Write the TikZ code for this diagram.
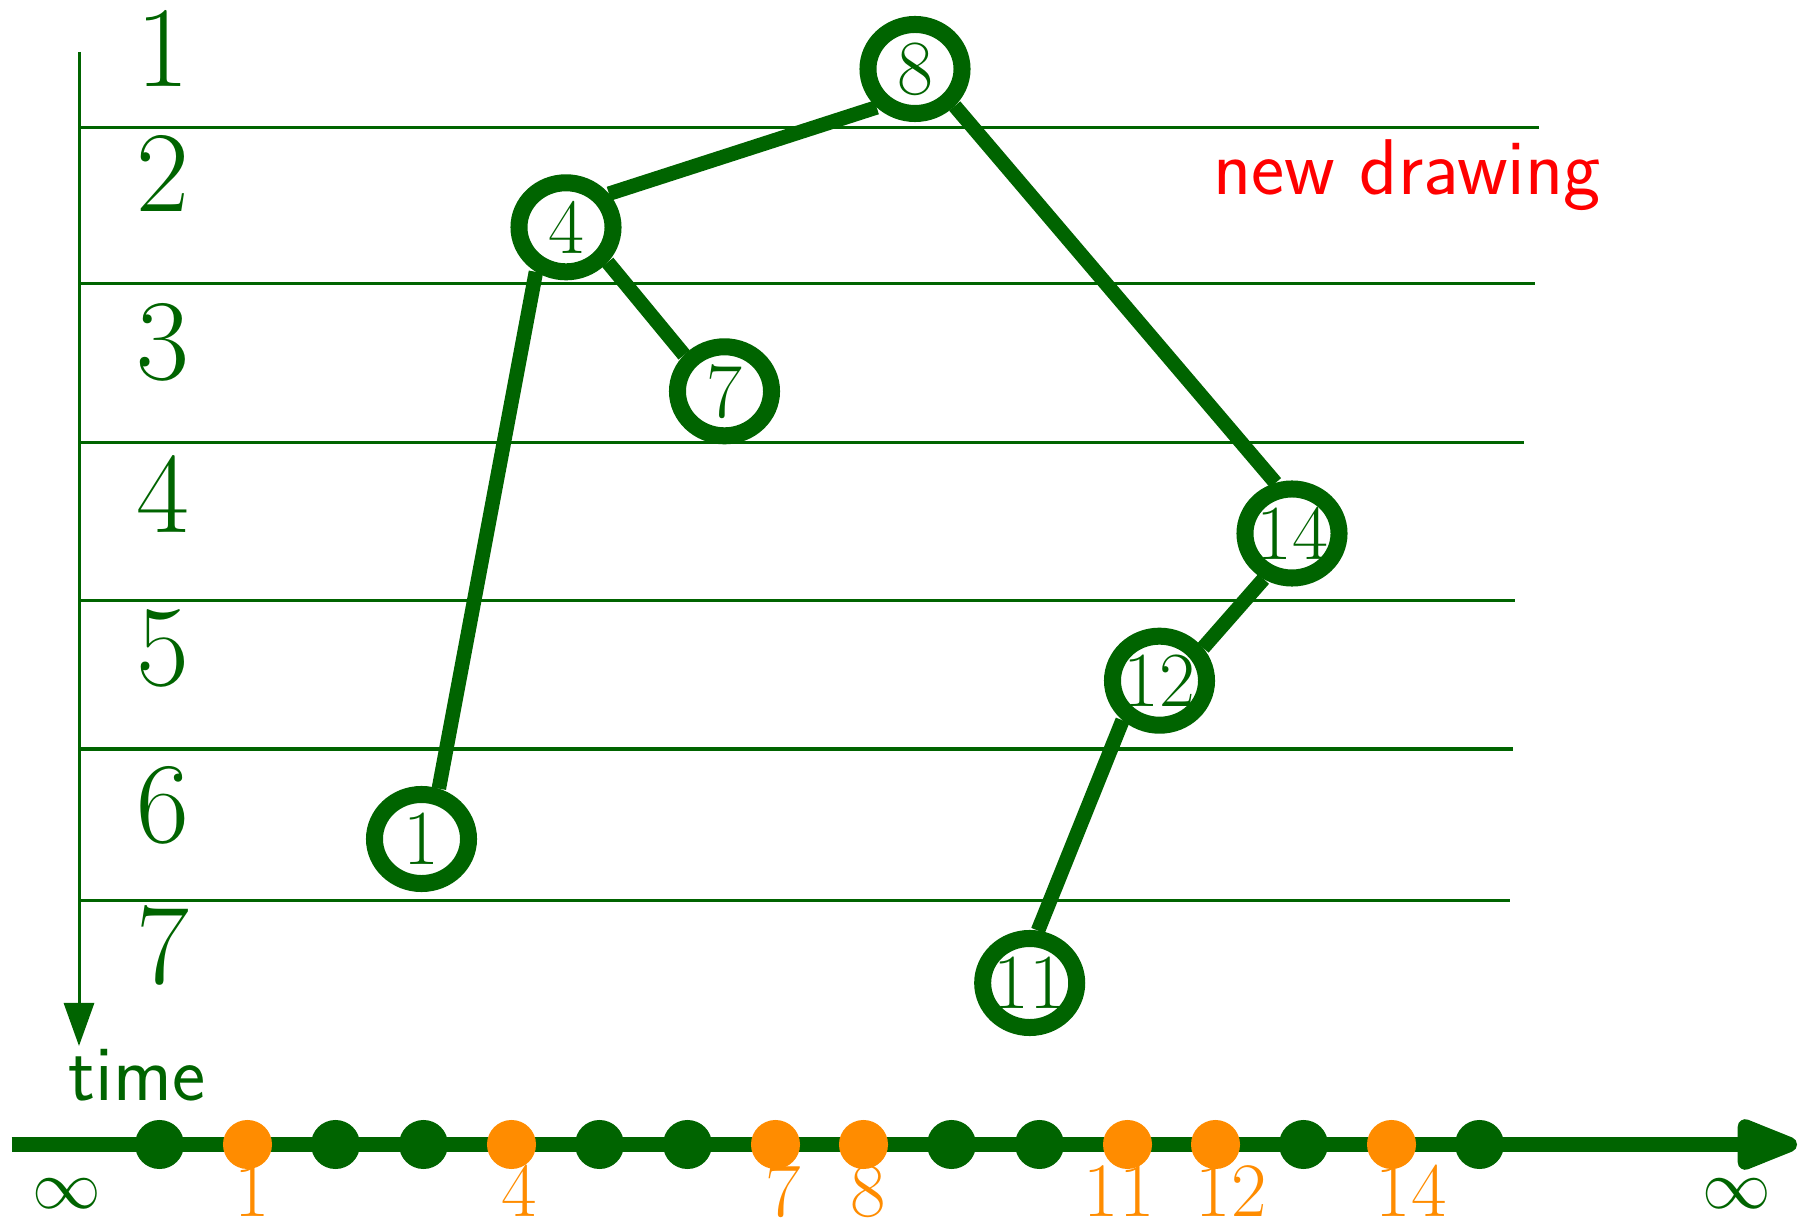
\documentclass[tikz,border=0pt]{standalone}
\usepackage{fontspec}
\usepackage{graphicx}
\usetikzlibrary{shapes.geometric,arrows.meta}
\definecolor{dg}{RGB}{0,100,0}
\definecolor{dorange}{RGB}{255,140,0}
\begin{document}
\begin{tikzpicture}[x=0.01cm,y=-0.01cm,
  tnode/.style={draw=dg, line width=0.17cm, fill=white, ellipse, inner sep=0pt,
    minimum width=0.94cm, minimum height=0.89cm, text=dg,
    font=\fontsize{0.78cm}{0.9cm}\selectfont},
  tedge/.style={draw=dg, line width=0.145cm},
  sepline/.style={draw=dg, line width=0.03cm},
  rowlab/.style={text=dg, anchor=base, inner sep=0pt,
    font=\fontsize{1.15cm}{1.3cm}\selectfont},
  olab/.style={text=dorange, anchor=base, inner sep=0pt,
    font=\fontsize{0.77cm}{0.9cm}\selectfont},
  sanslab/.style={anchor=base, inner sep=0pt,
    font=\sffamily\fontsize{0.79cm}{0.95cm}\selectfont},
  gdot/.style={circle, fill=dg, inner sep=0pt, minimum size=0.49cm},
  odot/.style={circle, fill=dorange, inner sep=0pt, minimum size=0.49cm},
  inflab/.style={text=dg, inner sep=0pt},
]
\useasboundingbox (0,0) rectangle (1809,1219);

% row separator lines
\coordinate (s1a) at (79,128);   \coordinate (s1b) at (1539,128);
\coordinate (s2a) at (79,283.5); \coordinate (s2b) at (1535,283.5);
\coordinate (s3a) at (79,442.5); \coordinate (s3b) at (1524,442.5);
\coordinate (s4a) at (79,601);   \coordinate (s4b) at (1515,601);
\coordinate (s5a) at (79,749);   \coordinate (s5b) at (1512.5,749);
\coordinate (s6a) at (79,900.5); \coordinate (s6b) at (1510,900.5);
\draw[sepline] (s1a) -- (s1b);
\draw[sepline] (s2a) -- (s2b);
\draw[sepline] (s3a) -- (s3b);
\draw[sepline] (s4a) -- (s4b);
\draw[sepline] (s5a) -- (s5b);
\draw[sepline] (s6a) -- (s6b);

% time axis
\coordinate (ta) at (79,52);
\coordinate (tb) at (79,1046);
\draw[dg, line width=0.03cm, -{Triangle[length=0.43cm,width=0.30cm]}] (ta) -- (tb);
\node[sanslab, text=dg] (time) at (137,1100) {time};

% row labels
\node[rowlab] (r1) at (163,86.7) {1};
\node[rowlab] (r2) at (163,212) {2};
\node[rowlab] (r3) at (163,380) {3};
\node[rowlab] (r4) at (163,533) {4};
\node[rowlab] (r5) at (163,685.5) {5};
\node[rowlab] (r6) at (163,842) {6};
\node[rowlab] (r7) at (163,983) {7};

\node[sanslab, text=red] (nd) at (1407,195) {new drawing};

% tree nodes
\node[tnode] (n8)  at (915,69)      {\makebox[0pt]{8}};
\node[tnode] (n4)  at (566,227.3)   {\makebox[0pt]{4}};
\node[tnode] (n7)  at (724.5,391.3) {\makebox[0pt]{7}};
\node[tnode] (n1)  at (421.5,839)   {\makebox[0pt]{1}};
\node[tnode] (n14) at (1292,533.5)  {\makebox[0pt]{14}};
\node[tnode] (n12) at (1159.5,680.7){\makebox[0pt]{12}};
\node[tnode] (n11) at (1029.7,983)  {\makebox[0pt]{11}};

% tree edges
\draw[tedge] (n4.38)   -- (n8.225);
\draw[tedge] (n4.236)  -- (n1.71);
\draw[tedge] (n4.320)  -- (n7.138);
\draw[tedge] (n8.317)  -- (n14.108);
\draw[tedge] (n14.238) -- (n12.37);
\draw[tedge] (n12.227) -- (n11.81);

% bottom axis
\coordinate (ba) at (11.5,1144.5);
\coordinate (bb) at (1797,1144.5);
\draw[dg, line width=0.15cm, -{Triangle[length=0.74cm,width=0.53cm,round]}] (ba) -- (bb);

\foreach \i/\s in {0/gdot,1/odot,2/gdot,3/gdot,4/odot,5/gdot,6/gdot,7/odot,
                   8/odot,9/gdot,10/gdot,11/odot,12/odot,13/gdot,14/odot,15/gdot}
  \node[\s] (d\i) at ({159.5+88*\i},1144.5) {};

% orange labels
\node[olab] (o1)  at (252,1216)  {1};
\node[olab] (o4)  at (519.5,1216) {4};
\node[olab] (o7)  at (783,1216)  {7};
\node[olab] (o8)  at (868.5,1216) {8};
\node[olab] (o11) at (1119,1216) {11};
\node[olab] (o12) at (1231,1216) {12};
\node[olab] (o14) at (1411,1216) {14};

% infinity labels
\node[inflab] (infl) at (67,1194)   {\scalebox{1.95}{$\infty$}};
\node[inflab] (infr) at (1737,1194) {\scalebox{1.95}{$\infty$}};
\end{tikzpicture}
\end{document}
